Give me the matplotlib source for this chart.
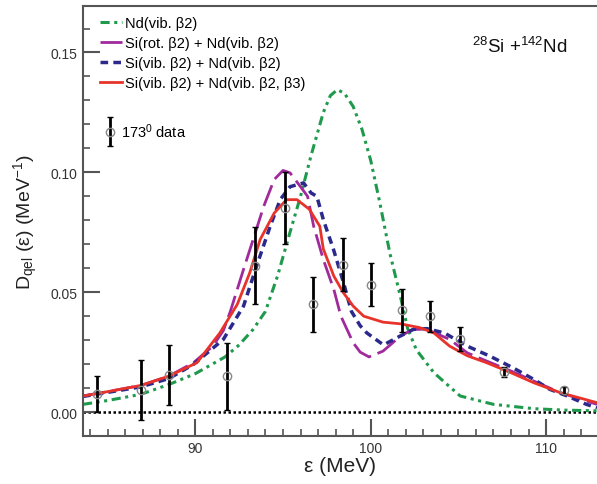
import numpy as np
import matplotlib
matplotlib.use('Agg')
import matplotlib.pyplot as plt
from matplotlib.container import ErrorbarContainer
from matplotlib.legend_handler import HandlerErrorbar
from matplotlib.ticker import MultipleLocator, FormatStrFormatter

plt.rcParams['font.family'] = ['Liberation Sans', 'DejaVu Sans']
plt.rcParams['mathtext.fontset'] = 'custom'
plt.rcParams['mathtext.rm'] = 'Liberation Sans'
plt.rcParams['mathtext.it'] = 'Liberation Sans:italic'

# Nd(vib. b2) curve
nd_x = [83.6, 85.0, 86.9, 88.5, 90.0, 91.7, 92.5, 93.3, 94.0, 94.7, 95.4, 96.0,
        96.6, 97.3, 97.7, 98.1, 98.5, 99.0, 99.5, 100.0, 100.5, 101.1, 101.7,
        102.1, 102.6, 103.6, 105.1, 107.0, 109.3, 111.0, 112.9]
nd_y = [0.0032, 0.0048, 0.0074, 0.0115, 0.016, 0.023, 0.028, 0.0345, 0.042,
        0.057, 0.075, 0.090, 0.107, 0.125, 0.132, 0.1345, 0.133, 0.1275, 0.118,
        0.105, 0.088, 0.066, 0.048, 0.035, 0.026, 0.0164, 0.0067, 0.0032,
        0.0014, 0.0008, 0.0005]

# Si(rot. b2) + Nd(vib. b2)
rot_x = [83.6, 85.0, 86.9, 88.5, 89.9, 91.0, 91.6, 92.0, 92.75, 93.3, 93.9,
         94.5, 95.0, 95.4, 96.0, 96.4, 96.75, 97.3, 97.9, 98.3, 99.0, 99.4,
         99.9, 100.7, 101.7, 102.4, 103.2, 104.5, 105.5, 106.6, 108.0, 109.3,
         110.8, 112.9]
rot_y = [0.0067, 0.0085, 0.0111, 0.015, 0.0206, 0.0275, 0.034, 0.042, 0.0595,
         0.072, 0.0858, 0.097, 0.1008, 0.0998, 0.094, 0.090, 0.0775, 0.0636,
         0.0511, 0.040, 0.0289, 0.025, 0.023, 0.0254, 0.0317, 0.0345, 0.0345,
         0.0303, 0.0247, 0.0213, 0.0171, 0.0129, 0.0081, 0.0032]

# Si(vib. b2) + Nd(vib. b2)
vib_x = [83.6, 85.0, 86.9, 88.5, 89.9, 91.6, 92.75, 93.5, 94.27, 94.84, 95.4,
         96.17, 96.6, 96.93, 97.31, 97.88, 98.45, 98.9, 99.4, 99.78, 100.73,
         101.68, 102.44, 103.2, 104.2, 105.5, 106.8, 108.1, 109.3, 110.2,
         111.2, 112.3, 112.9]
vib_y = [0.0065, 0.0082, 0.0105, 0.014, 0.0199, 0.0303, 0.0442, 0.061, 0.0775,
         0.0886, 0.094, 0.0956, 0.0914, 0.090, 0.080, 0.0678, 0.054, 0.042,
         0.036, 0.033, 0.028, 0.0317, 0.0345, 0.0348, 0.033, 0.0275, 0.0233,
         0.0185, 0.0136, 0.0095, 0.0067, 0.0032, 0.0018]

# Si(vib. b2) + Nd(vib. b2, b3)
oct_x = [83.6, 85.0, 86.9, 88.5, 90.1, 91.4, 92.4, 93.1, 93.7, 94.5, 95.2,
         95.8, 96.5, 97.1, 97.3, 97.9, 98.45, 99.0, 99.6, 100.7, 101.7, 102.8,
         103.6, 104.5, 105.5, 106.6, 108.0, 109.3, 110.8, 112.9]
oct_y = [0.0067, 0.0085, 0.0111, 0.015, 0.0206, 0.033, 0.045, 0.058, 0.072,
         0.083, 0.0886, 0.0886, 0.0846, 0.0775, 0.068, 0.0567, 0.0497, 0.0442,
         0.040, 0.0375, 0.0368, 0.0352, 0.033, 0.0275, 0.0235, 0.0206, 0.0164,
         0.0122, 0.0081, 0.0039]

# 173 deg data
data_x = [84.4, 86.9, 88.5, 91.8, 93.4, 95.1, 96.7, 98.4, 100.0, 101.8, 103.4,
          105.1, 107.6, 111.0]
data_y = [0.0075, 0.009, 0.0153, 0.015, 0.061, 0.085, 0.045, 0.0615, 0.0532,
          0.0424, 0.040, 0.0305, 0.0168, 0.009]
data_err = [0.0075, 0.0125, 0.0125, 0.014, 0.016, 0.015, 0.0115, 0.011, 0.009,
            0.009, 0.0065, 0.005, 0.002, 0.0015]

fig = plt.figure(figsize=(5.97, 4.85), dpi=100)
ax = fig.add_axes([83 / 597, 1 - 437 / 485, 514 / 597, 430 / 485])

ax.axhline(0, color='k', linestyle=(0, (1, 1)), linewidth=1.8, zorder=1)

l_nd, = ax.plot(nd_x, nd_y, color='#1f9a4c', linewidth=2.2,
                dashes=(3, 1.5, 1, 1.5, 1, 1.5), label='Nd(vib. β2)')
l_rot, = ax.plot(rot_x, rot_y, color='#a02a9c', linewidth=2,
                 dashes=(8, 2.5), label='Si(rot. β2) + Nd(vib. β2)')
l_vib, = ax.plot(vib_x, vib_y, color='#2b2a8c', linewidth=2.5,
                 dashes=(2.2, 1.5), label='Si(vib. β2) + Nd(vib. β2)')
l_oct, = ax.plot(oct_x, oct_y, color='#e8332b', linewidth=2,
                 label='Si(vib. β2) + Nd(vib. β2, β3)')

eb = ax.errorbar(data_x, data_y, yerr=data_err, fmt='o', markersize=6,
                 markerfacecolor='none', markeredgecolor='#888888',
                 markeredgewidth=1, ecolor='black', elinewidth=2, capsize=2,
                 capthick=1.5, label='173$^0$ data', zorder=5)

ax.set_xlim(83.6, 112.9)
ax.set_ylim(-0.01, 0.1694)

ax.xaxis.set_major_locator(MultipleLocator(10))
ax.xaxis.set_minor_locator(MultipleLocator(1))
ax.yaxis.set_major_locator(MultipleLocator(0.05))
ax.yaxis.set_minor_locator(MultipleLocator(0.01))
ax.yaxis.set_major_formatter(FormatStrFormatter('%.2f'))

ax.tick_params(which='both', direction='in', top=False, right=False,
               colors='#555555', labelcolor='#333333', labelsize=10)
ax.tick_params(which='major', length=12, width=1.5)
ax.tick_params(which='minor', length=5, width=1.2)
ax.tick_params(axis='x', pad=3.5)
ax.tick_params(axis='y', pad=4)

for side in ['left', 'bottom', 'top']:
    ax.spines[side].set_color('#555555')
    ax.spines[side].set_linewidth(1.5)
ax.spines['right'].set_visible(False)

ax.set_xlabel('ε (MeV)', fontsize=15, color='#222222', va='top')
ax.xaxis.set_label_coords(0.5, -0.047)
ax.set_ylabel('D$_{\\mathrm{qel}}$ (ε) (MeV$^{-1}$)', fontsize=14,
              color='#222222')
ax.yaxis.set_label_coords(-0.084, 0.5)

ax.text(0.9416, 0.906, '$^{28}$Si +$^{142}$Nd', transform=ax.transAxes,
        ha='right', va='center', fontsize=13.5, color='#111111')

leg1 = ax.legend(handles=[l_nd, l_rot, l_vib, l_oct], loc='center left',
                 bbox_to_anchor=(0.033, 0.891), frameon=False, fontsize=10.5,
                 handlelength=1.5, handletextpad=0.2, labelspacing=0.42,
                 borderpad=0, borderaxespad=0)
ax.add_artist(leg1)
ax.legend(handles=[eb], loc='center left', bbox_to_anchor=(0.041, 0.71),
          frameon=False, fontsize=10.5, handlelength=0.8, handletextpad=0.35,
          borderpad=0, borderaxespad=0,
          handler_map={ErrorbarContainer: HandlerErrorbar(xerr_size=1.0,
                                                          numpoints=1)})

fig.savefig('out.png', dpi=100)
